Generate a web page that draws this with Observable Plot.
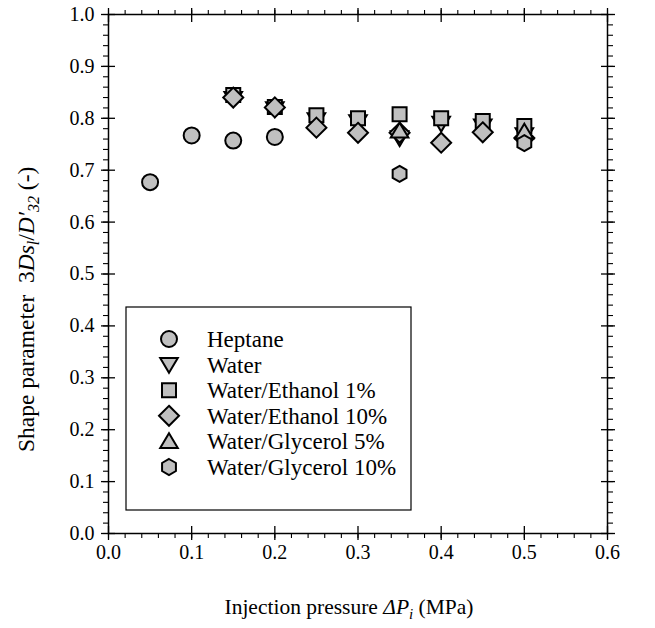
<!DOCTYPE html>
<html><head><meta charset="utf-8">
<script src="https://cdn.jsdelivr.net/npm/d3@7"></script>
<script src="https://cdn.jsdelivr.net/npm/@observablehq/plot@0.6"></script>
<style>
body{margin:0;background:#fff;}
#chart{position:relative;width:655px;height:628px;}
#chart svg{font-family:"Liberation Serif","Times New Roman",serif;}
</style></head><body><div id="chart"></div>
<script>
// ---- data ----
const seriesNames = ["Heptane","Water","Water/Ethanol 1%","Water/Ethanol 10%","Water/Glycerol 5%","Water/Glycerol 10%"];
const heptaneX = [0.05, 0.10, 0.15, 0.20];
const heptaneY = [0.677, 0.767, 0.757, 0.764];
const waterX = [0.15, 0.20, 0.25, 0.30, 0.35, 0.40, 0.45, 0.50];
const waterY = [0.838, 0.818, 0.797, 0.793, 0.762, 0.790, 0.785, 0.768];
const eth1X = [0.15, 0.20, 0.25, 0.30, 0.35, 0.40, 0.45, 0.50];
const eth1Y = [0.845, 0.822, 0.806, 0.800, 0.808, 0.800, 0.795, 0.785];
const eth10X = [0.15, 0.20, 0.25, 0.30, 0.35, 0.40, 0.45, 0.50];
const eth10Y = [0.840, 0.821, 0.782, 0.772, 0.772, 0.753, 0.773, 0.762];
const gly5X = [0.35, 0.50];
const gly5Y = [0.776, 0.774];
const gly10X = [0.35, 0.50];
const gly10Y = [0.693, 0.752];
const xMajor = [0, 0.1, 0.2, 0.3, 0.4, 0.5, 0.6];
const yMajor = [0, 0.1, 0.2, 0.3, 0.4, 0.5, 0.6, 0.7, 0.8, 0.9, 1.0];
const xMinor = d3.range(0, 31).map(i => i / 50);
const yMinor = d3.range(0, 51).map(i => i / 50);

// ---- symbols ----
function sym(fn){ return {draw(ctx, size){ const r = Math.sqrt(size / Math.PI); fn(ctx, r); }}; }
const circleS = sym((c, r) => { c.moveTo(r, 0); c.arc(0, 0, r, 0, 2 * Math.PI); });
const squareS = sym((c, r) => { const h = r * 0.875; c.moveTo(-h, -h); c.lineTo(h, -h); c.lineTo(h, h); c.lineTo(-h, h); c.closePath(); });
const diamondS = sym((c, r) => { const h = r * 1.25; c.moveTo(0, -h); c.lineTo(h, 0); c.lineTo(0, h); c.lineTo(-h, 0); c.closePath(); });
const triUpS = sym((c, r) => { const w = r * 1.1, h = r * 1.85; c.moveTo(0, -h * 0.55); c.lineTo(w, h * 0.45); c.lineTo(-w, h * 0.45); c.closePath(); });
const triDownS = sym((c, r) => { const w = r * 1.1, h = r * 1.85; c.moveTo(0, h * 0.55); c.lineTo(w, -h * 0.45); c.lineTo(-w, -h * 0.45); c.closePath(); });
const hexS = sym((c, r) => { for (let k = 0; k < 6; k++) { const a = -Math.PI / 2 + k * Math.PI / 3; const px = r * Math.cos(a), py = r * Math.sin(a); k ? c.lineTo(px, py) : c.moveTo(px, py); } c.closePath(); });
const symbols = [circleS, triDownS, squareS, diamondS, triUpS, hexS];
const seriesX = [heptaneX, waterX, eth1X, eth10X, gly5X, gly10X];
const seriesY = [heptaneY, waterY, eth1Y, eth10Y, gly5Y, gly10Y];

const fillC = "#c0c0c0";
const dotMarks = seriesX.map((xs, i) => Plot.dot(xs.map((x, j) => ({x, y: seriesY[i][j]})), {
  x: "x", y: "y", r: 8, symbol: symbols[i], fill: fillC, stroke: "black", strokeWidth: 2
}));

const tickOnly = {fill: "none", label: null, stroke: "black"};
const plot = Plot.plot({
  width: 655, height: 628,
  marginLeft: 108, marginRight: 48, marginTop: 14, marginBottom: 95,
  x: {domain: [0, 0.6], axis: null, label: null},
  y: {domain: [0, 1], axis: null, label: null},
  style: {fontFamily: "Liberation Serif", background: "white", overflow: "visible"},
  marks: [
    Plot.axisX({anchor: "bottom", ticks: xMajor, tickSize: 14, dy: -7, strokeWidth: 1.3, ...tickOnly}),
    Plot.axisX({anchor: "bottom", ticks: xMinor, tickSize: 5, strokeWidth: 1.1, ...tickOnly}),
    Plot.axisX({anchor: "top", ticks: xMajor, tickSize: 14, dy: 7, strokeWidth: 1.3, ...tickOnly}),
    Plot.axisX({anchor: "top", ticks: xMinor, tickSize: 5, strokeWidth: 1.1, ...tickOnly}),
    Plot.axisY({anchor: "left", ticks: yMajor, tickSize: 14, dx: 7, strokeWidth: 1.3, ...tickOnly}),
    Plot.axisY({anchor: "left", ticks: yMinor, tickSize: 5, strokeWidth: 1.1, ...tickOnly}),
    Plot.axisY({anchor: "right", ticks: yMajor, tickSize: 14, dx: -7, strokeWidth: 1.3, ...tickOnly}),
    Plot.axisY({anchor: "right", ticks: yMinor, tickSize: 5, strokeWidth: 1.1, ...tickOnly}),
    Plot.axisX({anchor: "bottom", ticks: xMajor, tickFormat: d3.format(".1f"), tickSize: 0, tickPadding: 11, fontSize: 20, fill: "black", label: null}),
    Plot.axisY({anchor: "left", ticks: yMajor, tickFormat: d3.format(".1f"), tickSize: 0, tickPadding: 14, fontSize: 20, fill: "black", label: null}),
    Plot.frame({stroke: "black", strokeWidth: 1.5}),
    ...dotMarks
  ]
});
document.getElementById("chart").appendChild(plot);

// ---- axis labels ----
const svg = d3.select(plot);
const xl = svg.append("text").attr("x", 349).attr("y", 614).attr("text-anchor", "middle")
  .attr("font-size", 21.5).attr("fill", "black").style("white-space", "pre");
xl.append("tspan").text("Injection pressure ");
xl.append("tspan").attr("font-style", "italic").text("ΔP");
xl.append("tspan").attr("font-style", "italic").attr("font-size", 15).attr("dy", 5).text("i");
xl.append("tspan").attr("dy", -5).text(" (MPa)");

const yl = svg.append("text").attr("transform", "translate(34,452) rotate(-90)").attr("text-anchor", "start")
  .attr("font-size", 23.5).attr("fill", "black").style("white-space", "pre");
yl.append("tspan").text("Shape parameter  3");
yl.append("tspan").attr("font-style", "italic").text("Ds");
yl.append("tspan").attr("font-style", "italic").attr("font-size", 16).attr("dy", 5).text("l");
yl.append("tspan").attr("dy", -5).text("/");
yl.append("tspan").attr("font-style", "italic").text("D′");
yl.append("tspan").attr("font-style", "italic").attr("font-size", 16).attr("dy", 5).text("32");
yl.append("tspan").attr("dy", -5).text(" (-)");

// ---- legend ----
const lg = svg.append("g");
lg.append("rect").attr("x", 126).attr("y", 307).attr("width", 285).attr("height", 203)
  .attr("fill", "white").attr("stroke", "black").attr("stroke-width", 1.2);
seriesNames.forEach((name, i) => {
  const cy = 339 + i * 25.6;
  const p = d3.path();
  symbols[i].draw(p, 8 * 8 * Math.PI);
  lg.append("path").attr("d", p.toString()).attr("transform", `translate(169,${cy})`)
    .attr("fill", fillC).attr("stroke", "black").attr("stroke-width", 2);
  lg.append("text").attr("x", 207).attr("y", cy).attr("dy", "0.35em").attr("font-size", 23)
    .attr("text-anchor", "start").attr("fill", "black").text(name);
});
</script>
</body></html>
